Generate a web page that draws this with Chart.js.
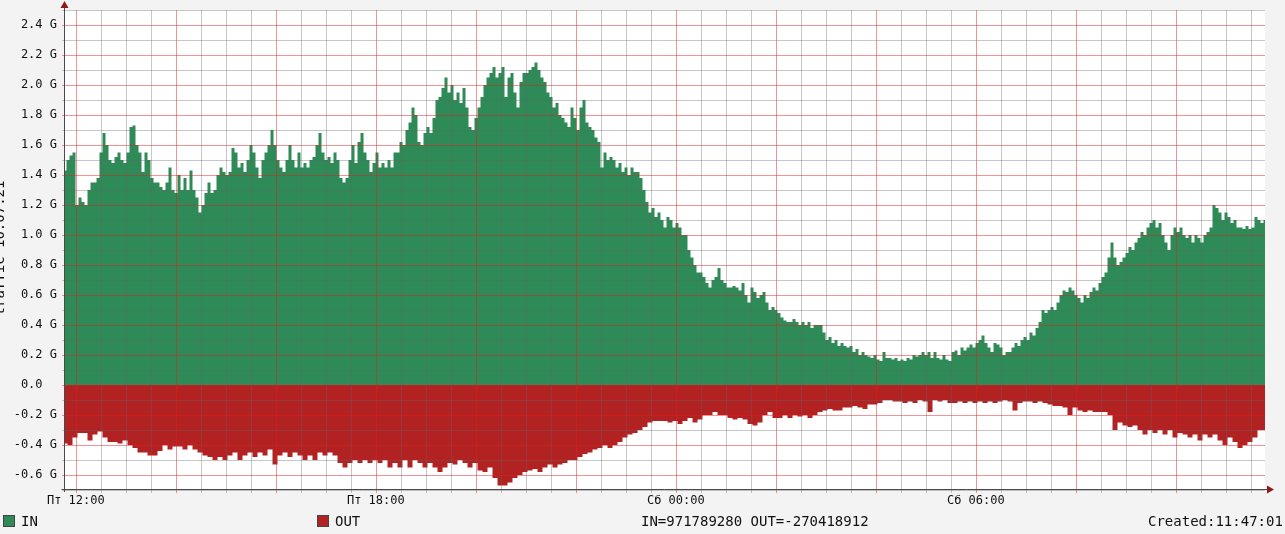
<!DOCTYPE html>
<html><head><meta charset="utf-8">
<script src="https://cdn.jsdelivr.net/npm/chart.js@4/dist/chart.umd.min.js"></script>
<style>
html,body{margin:0;padding:0;background:#f3f3f3;}
#wrap{position:relative;width:1285px;height:534px;overflow:hidden;background:#f3f3f3;}
canvas{position:absolute;left:0;top:0;}
.t{position:absolute;font-family:"DejaVu Sans Mono",monospace;font-size:14px;color:#111;white-space:pre;line-height:16px;}
.sw{position:absolute;width:10px;height:10px;border:1px solid #444;}
#ylab{position:absolute;left:-76px;top:241px;width:150px;text-align:center;transform:rotate(-90deg);font-family:"DejaVu Sans Mono",monospace;font-size:14px;color:#111;white-space:pre;line-height:14px;}
</style></head>
<body><div id="wrap"><canvas id="c" width="1285" height="534"></canvas>
<div id="ylab">traffic 10.07.21</div>
<div class="sw" style="left:3px;top:515px;background:#2e8b57"></div>
<div class="t" style="left:21px;top:513px">IN</div>
<div class="sw" style="left:317px;top:515px;background:#b22222"></div>
<div class="t" style="left:335px;top:513px">OUT</div>
<div class="t" style="left:641px;top:513px">IN=971789280 OUT=-270418912</div>
<div class="t" style="left:1148px;top:513px">Created:11:47:01</div>
</div>
<script>
// IN traffic, G (evenly spaced over 24 h window)
const IN_VALUES = [
1.43,1.50,1.53,1.55,1.20,1.25,1.22,1.20,1.30,1.35,
1.35,1.38,1.55,1.68,1.60,1.50,1.48,1.52,1.55,1.50,
1.48,1.55,1.72,1.73,1.60,1.55,1.42,1.55,1.50,1.38,
1.35,1.35,1.32,1.30,1.35,1.45,1.30,1.28,1.40,1.30,
1.38,1.30,1.43,1.30,1.25,1.15,1.20,1.28,1.35,1.28,
1.30,1.40,1.45,1.42,1.40,1.42,1.58,1.55,1.45,1.48,
1.42,1.50,1.60,1.55,1.45,1.38,1.50,1.55,1.60,1.70,
1.60,1.50,1.45,1.42,1.50,1.60,1.50,1.45,1.55,1.45,
1.48,1.45,1.50,1.52,1.60,1.68,1.55,1.50,1.52,1.48,
1.55,1.50,1.38,1.35,1.38,1.50,1.60,1.48,1.62,1.68,
1.55,1.50,1.42,1.48,1.55,1.45,1.48,1.45,1.50,1.45,
1.55,1.55,1.62,1.60,1.70,1.75,1.85,1.80,1.62,1.60,
1.68,1.72,1.68,1.78,1.90,1.92,1.98,2.05,1.95,2.00,
1.90,1.95,1.88,1.98,1.85,1.72,1.70,1.78,1.85,1.92,
2.00,2.05,2.08,2.12,2.05,2.08,2.12,1.92,2.05,2.08,
1.95,1.85,2.02,2.08,2.08,2.10,2.12,2.15,2.10,2.05,
2.02,1.95,1.92,1.85,1.88,1.80,1.78,1.75,1.72,1.85,
1.78,1.70,1.85,1.90,1.75,1.72,1.70,1.65,1.62,1.45,
1.55,1.50,1.52,1.50,1.45,1.48,1.42,1.45,1.40,1.45,
1.42,1.42,1.38,1.30,1.22,1.15,1.18,1.12,1.15,1.10,
1.05,1.12,1.10,1.05,1.08,1.05,1.00,1.00,0.90,0.85,
0.80,0.75,0.75,0.72,0.68,0.65,0.70,0.72,0.78,0.70,
0.68,0.65,0.65,0.66,0.65,0.63,0.68,0.60,0.55,0.65,
0.62,0.58,0.60,0.62,0.55,0.50,0.52,0.50,0.48,0.45,
0.43,0.42,0.42,0.44,0.42,0.40,0.42,0.40,0.42,0.38,
0.40,0.40,0.40,0.35,0.30,0.32,0.28,0.30,0.26,0.28,
0.26,0.25,0.26,0.22,0.24,0.20,0.22,0.20,0.19,0.18,
0.20,0.17,0.16,0.22,0.18,0.18,0.17,0.18,0.16,0.17,
0.16,0.18,0.17,0.20,0.19,0.20,0.22,0.20,0.22,0.18,
0.22,0.18,0.17,0.20,0.17,0.16,0.22,0.23,0.20,0.25,
0.23,0.25,0.27,0.25,0.28,0.30,0.33,0.28,0.25,0.22,
0.28,0.27,0.25,0.20,0.22,0.22,0.25,0.28,0.26,0.30,
0.32,0.30,0.35,0.33,0.38,0.42,0.50,0.48,0.50,0.52,
0.50,0.55,0.60,0.63,0.62,0.65,0.63,0.60,0.58,0.55,
0.60,0.58,0.62,0.65,0.63,0.68,0.72,0.75,0.85,0.95,
0.85,0.80,0.82,0.85,0.88,0.92,0.90,0.95,0.98,1.02,
1.00,1.05,1.08,1.10,1.05,1.08,1.00,0.95,0.90,1.00,
1.05,1.02,1.05,1.00,0.98,1.00,0.95,1.00,0.98,0.95,
1.00,1.02,1.05,1.20,1.18,1.15,1.10,1.15,1.12,1.08,
1.10,1.05,1.05,1.04,1.06,1.04,1.05,1.12,1.10,1.08,
1.10
];
// OUT traffic, G (evenly spaced over 24 h window)
const OUT_VALUES = [
-0.39,-0.40,-0.35,-0.32,-0.32,-0.37,-0.33,-0.31,-0.35,-0.38,
-0.38,-0.39,-0.37,-0.40,-0.42,-0.45,-0.45,-0.47,-0.47,-0.44,
-0.40,-0.43,-0.41,-0.41,-0.43,-0.40,-0.43,-0.45,-0.47,-0.48,
-0.50,-0.48,-0.50,-0.47,-0.45,-0.50,-0.47,-0.45,-0.48,-0.45,
-0.47,-0.43,-0.53,-0.47,-0.45,-0.48,-0.45,-0.47,-0.50,-0.47,
-0.50,-0.45,-0.47,-0.45,-0.47,-0.52,-0.55,-0.52,-0.50,-0.52,
-0.50,-0.52,-0.50,-0.52,-0.50,-0.55,-0.52,-0.55,-0.50,-0.55,
-0.50,-0.52,-0.55,-0.52,-0.55,-0.58,-0.55,-0.52,-0.53,-0.50,
-0.52,-0.55,-0.52,-0.57,-0.58,-0.55,-0.62,-0.67,-0.67,-0.65,
-0.62,-0.60,-0.58,-0.57,-0.56,-0.58,-0.55,-0.53,-0.55,-0.53,
-0.52,-0.50,-0.50,-0.48,-0.46,-0.45,-0.43,-0.42,-0.40,-0.42,
-0.40,-0.38,-0.35,-0.33,-0.32,-0.30,-0.28,-0.25,-0.24,-0.24,
-0.24,-0.25,-0.24,-0.26,-0.24,-0.22,-0.25,-0.23,-0.20,-0.20,
-0.18,-0.20,-0.20,-0.22,-0.23,-0.22,-0.23,-0.26,-0.27,-0.25,
-0.20,-0.18,-0.22,-0.22,-0.20,-0.22,-0.20,-0.21,-0.20,-0.22,
-0.20,-0.18,-0.17,-0.16,-0.17,-0.17,-0.15,-0.15,-0.14,-0.15,
-0.16,-0.13,-0.13,-0.12,-0.10,-0.10,-0.11,-0.11,-0.12,-0.11,
-0.12,-0.10,-0.11,-0.18,-0.10,-0.11,-0.10,-0.12,-0.12,-0.11,
-0.12,-0.11,-0.12,-0.11,-0.12,-0.11,-0.12,-0.11,-0.10,-0.11,
-0.17,-0.12,-0.11,-0.11,-0.12,-0.11,-0.12,-0.13,-0.14,-0.14,
-0.15,-0.20,-0.15,-0.17,-0.18,-0.17,-0.18,-0.18,-0.18,-0.20,
-0.30,-0.25,-0.27,-0.28,-0.27,-0.30,-0.33,-0.30,-0.32,-0.30,
-0.33,-0.30,-0.35,-0.32,-0.33,-0.35,-0.33,-0.37,-0.33,-0.35,
-0.33,-0.37,-0.40,-0.35,-0.38,-0.42,-0.40,-0.38,-0.35,-0.30,
-0.30
];
const SPAN_MINUTES = 1440;            // 24 h window starting 11:47:01
const FIRST_TICK_MINUTES = 12.983;    // Пт 12:00 relative to window start
const MINOR_STEP_MINUTES = 30;
const X_TICK_LABELS = ["Пт 12:00","Пт 18:00","Сб 00:00","Сб 06:00"];
const Y_MIN = -0.7, Y_MAX = 2.5, Y_STEP = 0.1;

const GRID_RED = 'rgba(230,30,30,0.48)';
const GRID_GRAY = 'rgba(100,100,100,0.36)';
const FONT = {family:'DejaVu Sans Mono', size:12};

// tick positions (30-min minor grid, 2-hour red grid; 0.1 G minor, 0.2 G red)
const X_TICKS = [];
for (let k = 0; FIRST_TICK_MINUTES + k*MINOR_STEP_MINUTES < SPAN_MINUTES; k++) X_TICKS.push(k);
const Y_TICKS = [];
for (let k = Math.round(Y_MIN/Y_STEP); k <= Math.round(Y_MAX/Y_STEP); k++) Y_TICKS.push(k);

function toPoints(arr){
  const n = arr.length;
  return arr.map((v,i)=>({x: i*SPAN_MINUTES/(n-1), y: v}));
}

const bgPlugin = {
  id:'bg',
  beforeDraw(chart){
    const c = chart.ctx, a = chart.chartArea;
    c.save();
    c.fillStyle = '#f3f3f3'; c.fillRect(0,0,chart.width,chart.height);
    c.fillStyle = '#ffffff'; c.fillRect(a.left,a.top,a.right-a.left,a.bottom-a.top);
    c.restore();
  },
  afterDatasetsDraw(chart){
    // rrdtool-style grid drawn over the areas
    const c = chart.ctx, a = chart.chartArea, xs = chart.scales.x, ys = chart.scales.y;
    c.save();
    c.lineWidth = 1;
    X_TICKS.forEach(k => {
      const px = Math.round(xs.getPixelForValue(FIRST_TICK_MINUTES + k*MINOR_STEP_MINUTES)) + 0.5;
      c.strokeStyle = (k % 4 === 0) ? GRID_RED : GRID_GRAY;
      c.beginPath(); c.moveTo(px, a.top); c.lineTo(px, a.bottom + 3); c.stroke();
    });
    Y_TICKS.forEach(k => {
      const py = Math.round(ys.getPixelForValue(k/10)) + 0.5;
      c.strokeStyle = (Math.abs(k) % 2 === 0) ? GRID_RED : GRID_GRAY;
      c.beginPath(); c.moveTo(a.left - 3, py); c.lineTo(a.right, py); c.stroke();
    });
    c.restore();
  },
  afterDraw(chart){
    const c = chart.ctx, a = chart.chartArea;
    const lx = a.left - 0.5, by = a.bottom - 0.5;
    c.save();
    c.strokeStyle = '#4a4a4a'; c.lineWidth = 1;
    c.beginPath(); c.moveTo(lx, a.bottom + 2); c.lineTo(lx, a.top - 4); c.stroke();
    c.beginPath(); c.moveTo(lx - 3, by); c.lineTo(a.right + 3, by); c.stroke();
    c.fillStyle = '#8b1a1a';
    c.beginPath(); c.moveTo(lx, a.top - 9); c.lineTo(lx - 4, a.top - 2); c.lineTo(lx + 4, a.top - 2); c.closePath(); c.fill();
    c.beginPath(); c.moveTo(a.right + 9, by); c.lineTo(a.right + 2, by - 4); c.lineTo(a.right + 2, by + 4); c.closePath(); c.fill();
    c.restore();
  }
};

new Chart(document.getElementById('c'), {
  type:'line',
  data:{datasets:[
    {label:'IN', data:toPoints(IN_VALUES), fill:'origin', backgroundColor:'#2e8b57', borderColor:'rgba(0,0,0,0)', borderWidth:0, pointRadius:0, stepped:'middle'},
    {label:'OUT', data:toPoints(OUT_VALUES), fill:'origin', backgroundColor:'#b22222', borderColor:'rgba(0,0,0,0)', borderWidth:0, pointRadius:0, stepped:'middle'}
  ]},
  options:{
    responsive:false, animation:false, devicePixelRatio:1,
    layout:{padding:{left:0, top:10, right:20, bottom:0}},
    plugins:{legend:{display:false}, tooltip:{enabled:false}},
    scales:{
      x:{
        type:'linear', min:0, max:SPAN_MINUTES,
        afterFit(s){ s.height = 44; s.paddingLeft = 0; s.paddingRight = 0; },
        afterBuildTicks(s){ s.ticks = X_TICKS.map(k => ({value: FIRST_TICK_MINUTES + k*MINOR_STEP_MINUTES})); },
        grid:{display:false, drawTicks:true, tickLength:3},
        border:{display:false},
        ticks:{autoSkip:false, maxRotation:0, minRotation:0, padding:1, font:FONT, color:'#111',
          callback:(v, i)=> X_TICKS[i] % 12 === 0 ? (X_TICK_LABELS[X_TICKS[i]/12] || '') : ''}
      },
      y:{
        type:'linear', min:Y_MIN, max:Y_MAX,
        afterFit(s){ s.width = 65; s.paddingTop = 0; s.paddingBottom = 0; },
        afterBuildTicks(s){ s.ticks = Y_TICKS.map(k => ({value: k/10})); },
        grid:{display:false, drawTicks:true, tickLength:3},
        border:{display:false},
        ticks:{autoSkip:false, padding:5, font:FONT, color:'#111',
          callback:(v, i)=>{ const k = Y_TICKS[i]; if (k % 2 !== 0) return ''; if (k === 0) return '0.0  '; return (k/10).toFixed(1) + ' G'; }}
      }
    }
  },
  plugins:[bgPlugin]
});
</script>
</body></html>
